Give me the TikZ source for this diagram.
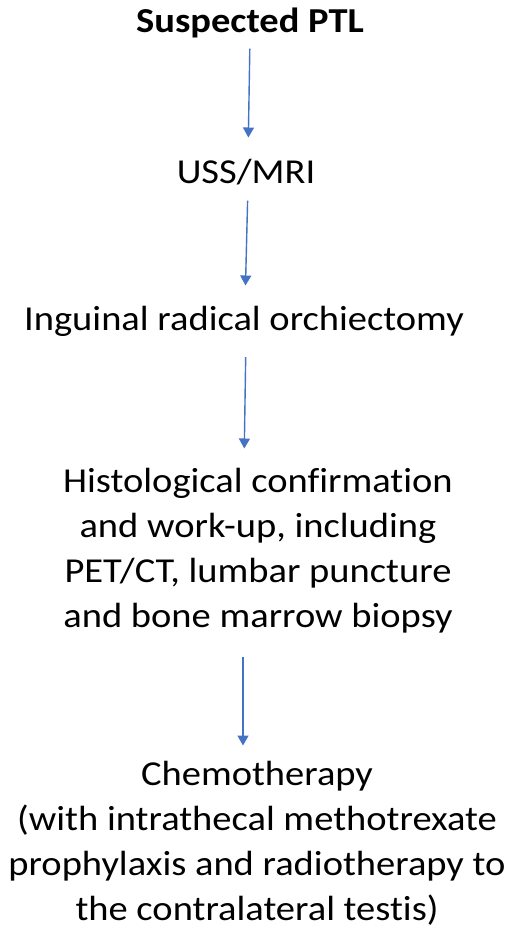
\documentclass[tikz,border=0pt]{standalone}
\usepackage{fontspec}
\setmainfont{Carlito}[FakeStretch=1.1, Ligatures=NoCommon]
\usetikzlibrary{arrows.meta}
\definecolor{arrowblue}{RGB}{68,114,196}
\tikzset{
  steptext/.style={inner sep=0pt, align=center, anchor=base, font=\fontsize{35}{45}\selectfont},
  flowarrow/.style={draw=arrowblue, line width=1.4pt, -{Triangle[width=11pt,length=10pt]}}
}
\begin{document}
\begin{tikzpicture}[x=1pt,y=1pt]
\useasboundingbox (0,0) rectangle (510,-927);
% steps (multi-line nodes sit on their last baseline)
\node[steptext, font=\fontsize{35}{45}\selectfont\bfseries] (ptl) at (250,-32) {Suspected PTL};
\node[steptext] (uss) at (246,-183) {USS/MRI};
\node[steptext] (ing) at (244,-330) {Inguinal radical orchiectomy};
\node[steptext] (hist) at (258,-627) {Histological confirmation\\and work-up, including\\PET/CT, lumbar puncture\\and bone marrow biopsy};
\node[steptext] (chemo) at (257,-920) {Chemotherapy\\(with intrathecal methotrexate\\prophylaxis and radiotherapy to\\the contralateral testis)};
% arrows
\draw[flowarrow, shorten <=11pt, shorten >=21pt] (ptl.south) -- ([xshift=2pt]uss.north);
\draw[flowarrow, shorten <=16pt, shorten >=20pt] ([xshift=2pt]uss.south) -- ([xshift=1pt]ing.north);
\draw[flowarrow, shorten <=21pt, shorten >=19pt] ([xshift=2pt]ing.south) -- ([xshift=-14pt]hist.north);
\draw[flowarrow, shorten <=24pt, shorten >=15pt] ([xshift=-15pt]hist.south) -- ([xshift=-14pt]chemo.north);
\end{tikzpicture}
\end{document}
